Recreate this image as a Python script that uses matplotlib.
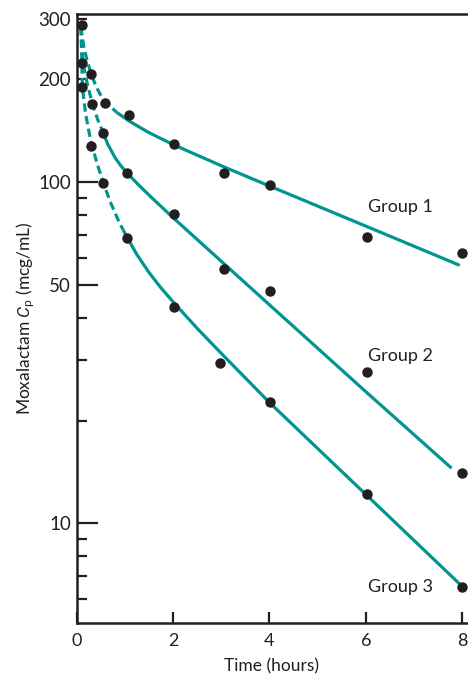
import matplotlib
matplotlib.use("Agg")
import matplotlib.pyplot as plt
from matplotlib.ticker import FixedLocator, FuncFormatter

# Measured points (time in hours, Cp in mcg/mL)
g1_t = [0.12, 0.30, 0.60, 1.09, 2.02, 3.06, 4.02, 6.02, 8.0]
g1_cp = [289, 207, 171, 157, 129, 106, 98, 69, 62]
g2_t = [0.12, 0.33, 0.55, 1.04, 2.02, 3.06, 4.02, 6.02, 8.0]
g2_cp = [223, 169, 139.5, 106.5, 80.5, 55.6, 47.8, 27.7, 14.0]
g3_t = [0.12, 0.30, 0.55, 1.04, 2.03, 2.97, 4.02, 6.02, 8.0]
g3_cp = [190, 127.5, 99.5, 68.4, 43.0, 29.5, 22.7, 12.2, 6.5]

# Fitted curves: early (dashed) and late (solid) parts
g1_fit_early_t = [0.09, 0.15, 0.21, 0.30, 0.41, 0.50, 0.60, 0.83]
g1_fit_early_cp = [285, 250, 230, 208, 190, 180, 172, 160.2]
g1_fit_late_t = [0.83, 1.10, 1.50, 2.00, 3.00, 4.00, 6.00, 7.95]
g1_fit_late_cp = [160.2, 150.7, 139.7, 128.9, 111.7, 97.4, 74.3, 57.0]

g2_fit_early_t = [0.09, 0.13, 0.21, 0.33, 0.45, 0.50]
g2_fit_early_cp = [285, 225, 198, 169, 151, 145.5]
g2_fit_late_t = [0.50, 0.55, 0.65, 0.80, 0.92, 1.04, 1.30, 1.60, 2.00, 4.00, 6.00, 7.78]
g2_fit_late_cp = [145.5, 139.5, 129.0, 117.9, 111.6, 106.6, 97.7, 88.9, 78.7, 43.7, 24.3, 14.5]

g3_fit_early_t = [0.09, 0.11, 0.12, 0.19, 0.30, 0.43, 0.55, 0.70, 0.88, 0.97]
g3_fit_early_cp = [285, 230, 190, 158, 131, 113, 100, 87.5, 76.5, 72.3]
g3_fit_late_t = [0.97, 1.06, 1.25, 1.50, 1.75, 2.00, 2.50, 3.00, 4.00, 6.00, 7.95]
g3_fit_late_cp = [72.3, 68.4, 61.4, 54.4, 49.0, 44.6, 37.3, 31.5, 22.6, 12.15, 6.63]

group_labels = ["Group 1", "Group 2", "Group 3"]
label_t = [6.72, 6.72, 6.72]
label_cp = [81.7, 29.8, 6.27]

major_y = [10, 50, 100]
minor_y = [6, 7, 8, 9, 20, 30, 40, 60, 70, 80, 90, 200, 300]
x_ticks = [0, 2, 4, 6, 8]

teal = "#00968f"
ink = "#231f20"

plt.rcParams["font.family"] = ["Lato", "DejaVu Sans"]
plt.rcParams["mathtext.fontset"] = "custom"
plt.rcParams["mathtext.it"] = "Roboto:italic"
plt.rcParams["mathtext.rm"] = "Lato"

fig = plt.figure(figsize=(4.68, 6.82), dpi=100)
ax = fig.add_axes([0.1635, 0.0865, 0.8365, 0.893])
ax.set_yscale("log")

dash = (0, (2.6, 1.4))
for et, ec, lt, lc in [(g1_fit_early_t, g1_fit_early_cp, g1_fit_late_t, g1_fit_late_cp),
                       (g2_fit_early_t, g2_fit_early_cp, g2_fit_late_t, g2_fit_late_cp),
                       (g3_fit_early_t, g3_fit_early_cp, g3_fit_late_t, g3_fit_late_cp)]:
    ax.plot(et, ec, color=teal, lw=2.3, linestyle=dash, zorder=2)
    ax.plot(lt, lc, color=teal, lw=2.3, solid_capstyle="butt", zorder=2)

for t, cp in [(g1_t, g1_cp), (g2_t, g2_cp), (g3_t, g3_cp)]:
    ax.plot(t, cp, "o", color=ink, ms=6.5, zorder=3, clip_on=False)

for lab, t, cp in zip(group_labels, label_t, label_cp):
    ax.text(t, cp, lab, fontsize=13, color=ink, ha="center", va="baseline")

ax.set_xlim(0, 8.12)
ax.set_ylim(5.1, 311)

ax.yaxis.set_major_locator(FixedLocator(major_y))
ax.yaxis.set_major_formatter(FuncFormatter(lambda v, p: "%d" % v))
ax.yaxis.set_minor_locator(FixedLocator(minor_y))
ax.yaxis.set_minor_formatter(FuncFormatter(lambda v, p: "%d" % v if v in (200, 300) else ""))
ax.set_xticks(x_ticks)

ax.tick_params(axis="y", which="major", direction="in", length=15, width=1.6,
               color=ink, labelcolor=ink, labelsize=13.5, pad=4)
ax.tick_params(axis="y", which="minor", direction="in", length=7.5, width=1.6,
               color=ink, labelcolor=ink, labelsize=13.5, pad=4)
ax.tick_params(axis="x", direction="in", length=8, width=1.6,
               color=ink, labelcolor=ink, labelsize=13, pad=7)

for s in ["left", "bottom", "top"]:
    ax.spines[s].set_linewidth(1.8)
    ax.spines[s].set_color(ink)
ax.spines["right"].set_visible(False)

ax.set_xlabel("Time (hours)", fontsize=12.5, color=ink, va="top")
ax.xaxis.set_label_coords(0.499, -0.058)
ax.set_ylabel("Moxalactam $C_\\mathrm{p}$ (mcg/mL)", fontsize=12.5, color=ink)
ax.yaxis.set_label_coords(-0.101, 0.5)

fig.savefig("out.png", dpi=100)
